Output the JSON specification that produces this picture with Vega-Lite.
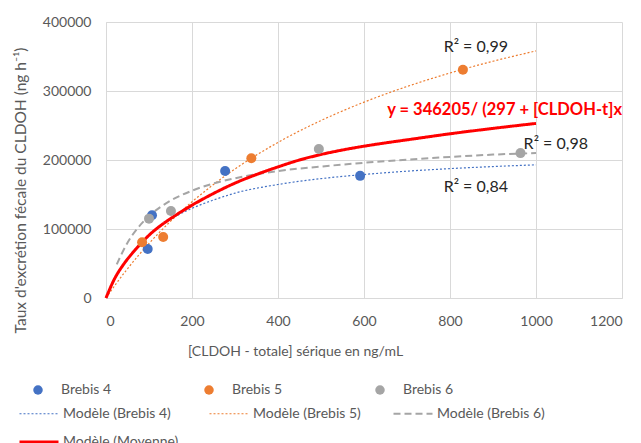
{
  "$schema": "https://vega.github.io/schema/vega-lite/v6.json",
  "autosize": "none",
  "width": 516,
  "height": 276,
  "padding": {"left": 106, "top": 22, "right": 19, "bottom": 145},
  "background": "white",
  "config": {
    "view": {"stroke": null},
    "font": "Lato",
    "axis": {"gridColor": "#D9D9D9", "domainColor": "#D9D9D9", "ticks": false, "labelColor": "#595959", "titleColor": "#595959", "labelFont": "Lato", "titleFont": "Lato", "labelFontSize": 14, "titleFontSize": 14, "titleFontWeight": "normal"},
    "legend": {"labelFont": "Lato", "labelFontSize": 14, "labelColor": "#595959", "padding": 0}
  },
  "datasets": {
    "pts": [
      {"series": "Brebis 4", "x": 97, "y": 71000},
      {"series": "Brebis 4", "x": 107, "y": 120000},
      {"series": "Brebis 4", "x": 277, "y": 184000},
      {"series": "Brebis 4", "x": 591, "y": 177000},
      {"series": "Brebis 5", "x": 84, "y": 80700},
      {"series": "Brebis 5", "x": 133, "y": 88400},
      {"series": "Brebis 5", "x": 338, "y": 202500},
      {"series": "Brebis 5", "x": 830, "y": 330900},
      {"series": "Brebis 6", "x": 100, "y": 115000},
      {"series": "Brebis 6", "x": 151, "y": 126000},
      {"series": "Brebis 6", "x": 495, "y": 216000},
      {"series": "Brebis 6", "x": 964, "y": 210000}
    ],
    "curves": [
      {"model": "Modèle (Brebis 4)", "x": 0, "y": 0},
      {"model": "Modèle (Brebis 4)", "x": 25, "y": 32800},
      {"model": "Modèle (Brebis 4)", "x": 50, "y": 57100},
      {"model": "Modèle (Brebis 4)", "x": 75, "y": 76000},
      {"model": "Modèle (Brebis 4)", "x": 100, "y": 91500},
      {"model": "Modèle (Brebis 4)", "x": 150, "y": 114000},
      {"model": "Modèle (Brebis 4)", "x": 200, "y": 130000},
      {"model": "Modèle (Brebis 4)", "x": 250, "y": 142000},
      {"model": "Modèle (Brebis 4)", "x": 300, "y": 152000},
      {"model": "Modèle (Brebis 4)", "x": 400, "y": 164500},
      {"model": "Modèle (Brebis 4)", "x": 500, "y": 173000},
      {"model": "Modèle (Brebis 4)", "x": 600, "y": 179000},
      {"model": "Modèle (Brebis 4)", "x": 700, "y": 183800},
      {"model": "Modèle (Brebis 4)", "x": 800, "y": 187500},
      {"model": "Modèle (Brebis 4)", "x": 900, "y": 190500},
      {"model": "Modèle (Brebis 4)", "x": 1000, "y": 193000},
      {"model": "Modèle (Brebis 5)", "x": 0, "y": 0},
      {"model": "Modèle (Brebis 5)", "x": 25, "y": 21980},
      {"model": "Modèle (Brebis 5)", "x": 50, "y": 42370},
      {"model": "Modèle (Brebis 5)", "x": 75, "y": 61330},
      {"model": "Modèle (Brebis 5)", "x": 100, "y": 79060},
      {"model": "Modèle (Brebis 5)", "x": 150, "y": 111130},
      {"model": "Modèle (Brebis 5)", "x": 200, "y": 139400},
      {"model": "Modèle (Brebis 5)", "x": 250, "y": 164500},
      {"model": "Modèle (Brebis 5)", "x": 300, "y": 187000},
      {"model": "Modèle (Brebis 5)", "x": 400, "y": 225500},
      {"model": "Modèle (Brebis 5)", "x": 500, "y": 257200},
      {"model": "Modèle (Brebis 5)", "x": 600, "y": 283800},
      {"model": "Modèle (Brebis 5)", "x": 700, "y": 306500},
      {"model": "Modèle (Brebis 5)", "x": 800, "y": 326100},
      {"model": "Modèle (Brebis 5)", "x": 900, "y": 343100},
      {"model": "Modèle (Brebis 5)", "x": 1000, "y": 358100},
      {"model": "Modèle (Brebis 6)", "x": 25, "y": 48700},
      {"model": "Modèle (Brebis 6)", "x": 50, "y": 80200},
      {"model": "Modèle (Brebis 6)", "x": 75, "y": 102300},
      {"model": "Modèle (Brebis 6)", "x": 100, "y": 118700},
      {"model": "Modèle (Brebis 6)", "x": 150, "y": 141000},
      {"model": "Modèle (Brebis 6)", "x": 200, "y": 155500},
      {"model": "Modèle (Brebis 6)", "x": 250, "y": 166000},
      {"model": "Modèle (Brebis 6)", "x": 300, "y": 173500},
      {"model": "Modèle (Brebis 6)", "x": 400, "y": 184000},
      {"model": "Modèle (Brebis 6)", "x": 500, "y": 190500},
      {"model": "Modèle (Brebis 6)", "x": 600, "y": 196000},
      {"model": "Modèle (Brebis 6)", "x": 700, "y": 200500},
      {"model": "Modèle (Brebis 6)", "x": 800, "y": 204500},
      {"model": "Modèle (Brebis 6)", "x": 900, "y": 207800},
      {"model": "Modèle (Brebis 6)", "x": 1000, "y": 210000},
      {"model": "Modèle (Moyenne)", "x": 0, "y": 0},
      {"model": "Modèle (Moyenne)", "x": 20, "y": 28000},
      {"model": "Modèle (Moyenne)", "x": 40, "y": 48000},
      {"model": "Modèle (Moyenne)", "x": 60, "y": 64000},
      {"model": "Modèle (Moyenne)", "x": 80, "y": 78000},
      {"model": "Modèle (Moyenne)", "x": 100, "y": 91000},
      {"model": "Modèle (Moyenne)", "x": 125, "y": 104000},
      {"model": "Modèle (Moyenne)", "x": 150, "y": 115000},
      {"model": "Modèle (Moyenne)", "x": 200, "y": 134500},
      {"model": "Modèle (Moyenne)", "x": 250, "y": 151500},
      {"model": "Modèle (Moyenne)", "x": 300, "y": 166500},
      {"model": "Modèle (Moyenne)", "x": 350, "y": 179000},
      {"model": "Modèle (Moyenne)", "x": 400, "y": 190000},
      {"model": "Modèle (Moyenne)", "x": 450, "y": 200000},
      {"model": "Modèle (Moyenne)", "x": 500, "y": 208000},
      {"model": "Modèle (Moyenne)", "x": 550, "y": 214500},
      {"model": "Modèle (Moyenne)", "x": 600, "y": 220000},
      {"model": "Modèle (Moyenne)", "x": 650, "y": 224800},
      {"model": "Modèle (Moyenne)", "x": 700, "y": 229200},
      {"model": "Modèle (Moyenne)", "x": 800, "y": 238000},
      {"model": "Modèle (Moyenne)", "x": 900, "y": 245800},
      {"model": "Modèle (Moyenne)", "x": 1000, "y": 253000}
    ],
    "r2": [
      {"x": 860, "y": 364200, "label": "R² = 0,99"},
      {"x": 1046, "y": 223800, "label": "R² = 0,98"},
      {"x": 860, "y": 160800, "label": "R² = 0,84"}
    ],
    "eq": [
      {"x": 1200, "y": 272200, "label": "y = 346205/ (297 + [CLDOH-t]x"}
    ]
  },
  "layer": [
    {
      "data": {"name": "curves"},
      "mark": {"type": "line", "interpolate": "monotone"},
      "encoding": {
        "x": {"field": "x", "type": "quantitative", "scale": {"domain": [0, 1200], "nice": false},
          "axis": {"values": [0, 200, 400, 600, 800, 1000, 1200], "format": "d", "labelPadding": 16, "title": "[CLDOH - totale] sérique en ng/mL", "titleX": 189, "titleY": 53, "titleAlign": "center", "titleBaseline": "middle"}},
        "y": {"field": "y", "type": "quantitative", "scale": {"domain": [0, 400000], "nice": false},
          "axis": {"values": [0, 100000, 200000, 300000, 400000], "format": "d", "labelPadding": 15, "title": "Taux d'excrétion fécale du CLDOH (ng h⁻¹)", "titleFontSize": 15.5, "titleX": -86, "titleY": 168, "titleAngle": -90, "titleAlign": "center", "titleBaseline": "middle"}},
        "color": {"field": "model", "type": "nominal",
          "scale": {"domain": ["Modèle (Brebis 4)", "Modèle (Brebis 5)", "Modèle (Brebis 6)", "Modèle (Moyenne)"], "range": ["#4472C4", "#ED7D31", "#A5A5A5", "#FF0000"]},
          "legend": {"title": null, "orient": "none", "direction": "horizontal", "legendX": -88, "legendY": 371, "columns": 3, "columnPadding": 28, "rowPadding": -13, "symbolType": "stroke", "symbolSize": 1521, "labelOffset": 3}},
        "strokeDash": {"field": "model", "type": "nominal",
          "scale": {"domain": ["Modèle (Brebis 4)", "Modèle (Brebis 5)", "Modèle (Brebis 6)", "Modèle (Moyenne)"], "range": [[2, 2], [2, 2], [7, 4], [1, 0]]},
          "legend": {"title": null, "orient": "none", "direction": "horizontal", "legendX": -88, "legendY": 371, "columns": 3, "columnPadding": 28, "rowPadding": -13, "symbolType": "stroke", "symbolSize": 1521, "labelOffset": 3}},
        "strokeWidth": {"field": "model", "type": "nominal",
          "scale": {"type": "ordinal", "domain": ["Modèle (Brebis 4)", "Modèle (Brebis 5)", "Modèle (Brebis 6)", "Modèle (Moyenne)"], "range": [1.2, 1.2, 2, 3]},
          "legend": {"title": null, "orient": "none", "direction": "horizontal", "legendX": -88, "legendY": 371, "columns": 3, "columnPadding": 28, "rowPadding": -13, "symbolType": "stroke", "symbolSize": 1521, "labelOffset": 3}}
      }
    },
    {
      "data": {"name": "pts"},
      "mark": {"type": "point", "filled": true, "shape": "circle", "size": 100, "opacity": 1},
      "encoding": {
        "x": {"field": "x", "type": "quantitative"},
        "y": {"field": "y", "type": "quantitative"},
        "color": {"field": "series", "type": "nominal",
          "scale": {"domain": ["Brebis 4", "Brebis 5", "Brebis 6"], "range": ["#4472C4", "#ED7D31", "#A5A5A5"]},
          "legend": {"title": null, "orient": "none", "direction": "horizontal", "legendX": -75, "legendY": 361, "columns": 3, "columnPadding": 90, "symbolSize": 90, "labelOffset": 16, "symbolOpacity": 1}}
      }
    },
    {
      "data": {"name": "r2"},
      "mark": {"type": "text", "fontSize": 16, "color": "#262626", "align": "center", "baseline": "middle", "font": "Lato"},
      "encoding": {
        "x": {"field": "x", "type": "quantitative"},
        "y": {"field": "y", "type": "quantitative"},
        "text": {"field": "label", "type": "nominal"}
      }
    },
    {
      "data": {"name": "eq"},
      "mark": {"type": "text", "fontSize": 16.5, "fontWeight": "bold", "color": "#FF0000", "align": "right", "baseline": "middle", "font": "Lato"},
      "encoding": {
        "x": {"field": "x", "type": "quantitative"},
        "y": {"field": "y", "type": "quantitative"},
        "text": {"field": "label", "type": "nominal"}
      }
    }
  ],
  "resolve": {"scale": {"color": "independent", "strokeDash": "independent", "strokeWidth": "independent"}}
}
